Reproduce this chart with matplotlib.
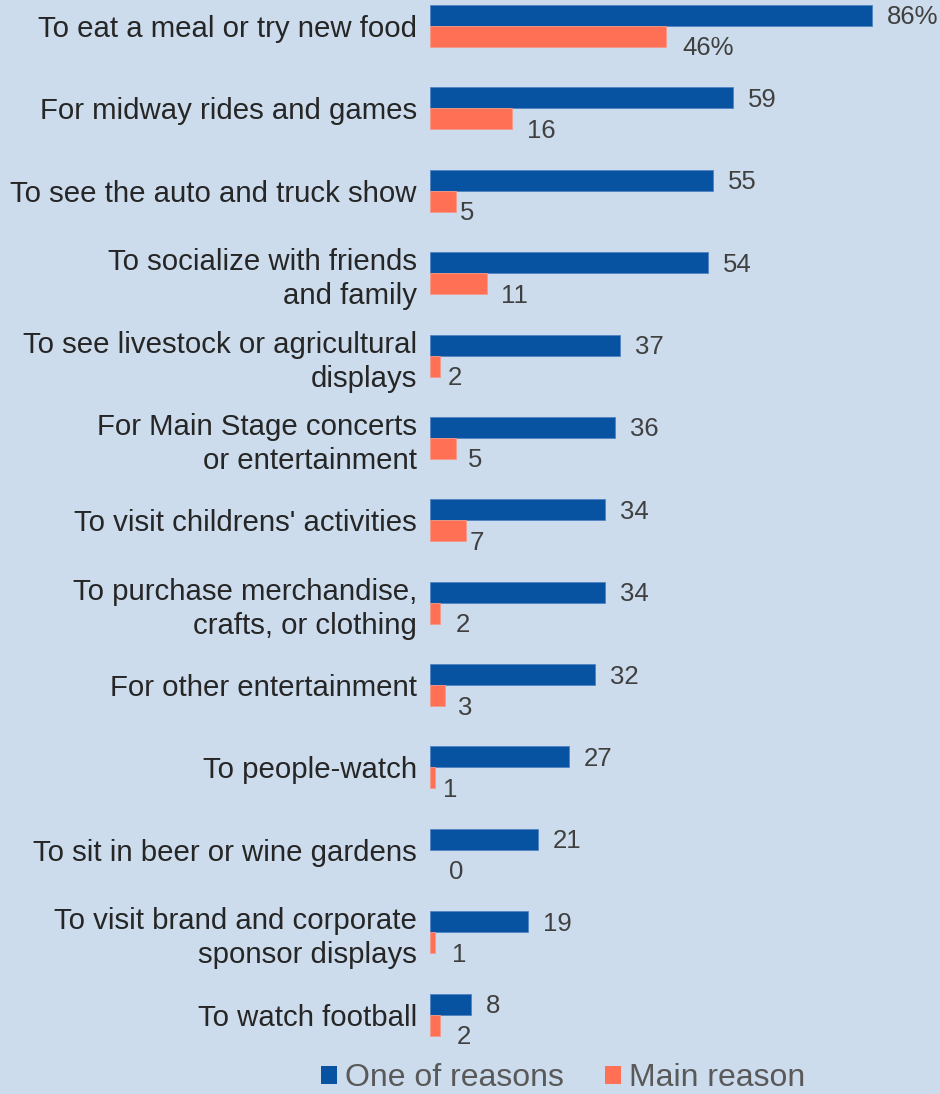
import numpy as np
import matplotlib.pyplot as plt
from matplotlib.patches import Patch

plt.rcParams['font.family'] = ['Liberation Sans', 'DejaVu Sans']

categories = [
    "To eat a meal or try new food",
    "For midway rides and games",
    "To see the auto and truck show",
    "To socialize with friends\nand family",
    "To see livestock or agricultural\ndisplays",
    "For Main Stage concerts\nor entertainment",
    "To visit childrens' activities",
    "To purchase merchandise,\ncrafts, or clothing",
    "For other entertainment",
    "To people-watch",
    "To sit in beer or wine gardens",
    "To visit brand and corporate\nsponsor displays",
    "To watch football",
]
one_of_reasons = [86, 59, 55, 54, 37, 36, 34, 34, 32, 27, 21, 19, 8]
main_reason = [46, 16, 5, 11, 2, 5, 7, 2, 3, 1, 0, 1, 2]

# horizontal nudges (px) for the main-reason labels
main_nudge = [16, 15, 4, 14, 7, 12, 4, 15, 13, 8, 19, 17, 16]

BG = '#CCDCEC'
BLUE = '#0753A2'
CORAL = '#FF7055'

fig = plt.figure(figsize=(9.4, 10.94), dpi=100, facecolor=BG)
ax = fig.add_axes([430 / 940, 1 - 1055 / 1094, 510 / 940, 1055 / 1094])
ax.set_facecolor(BG)

y = np.arange(len(categories))
h = 0.255
px = 0.72  # points per pixel at 100 dpi

ax.barh(y - h / 2, one_of_reasons, height=h, color=BLUE,
        edgecolor='#4F83C2', linewidth=0.6)
ax.barh(y + h / 2, main_reason, height=h, color=CORAL,
        edgecolor='#F59888', linewidth=[0.6 if v > 0 else 0 for v in main_reason])

for i, (a, b) in enumerate(zip(one_of_reasons, main_reason)):
    ta = f"{a}%" if i == 0 else str(a)
    tb = f"{b}%" if i == 0 else str(b)
    ax.annotate(ta, (a, y[i] - h / 2), xytext=(15 * px, -2 * px),
                textcoords='offset points', ha='left', va='center',
                fontsize=18.5, color='#404040')
    ax.annotate(tb, (b, y[i] + h / 2), xytext=(main_nudge[i] * px, -12 * px),
                textcoords='offset points', ha='left', va='center',
                fontsize=18.5, color='#404040')

ax.set_xlim(0, 99.2)
ax.set_ylim(12.49, -0.3155)
ax.set_xticks([])
ax.set_yticks(y)
ax.set_yticklabels(categories, fontsize=21.2, color='#262626',
                   linespacing=1.28)
ax.tick_params(axis='y', length=0, pad=9.4)
for s in ax.spines.values():
    s.set_visible(False)

handles = [Patch(facecolor=BLUE, label='One of reasons'),
           Patch(facecolor=CORAL, label='Main reason')]
fig.legend(handles=handles, loc='center', bbox_to_anchor=(563 / 940, 1 - 1078 / 1094),
           ncol=2, frameon=False, fontsize=23, labelcolor='#595959',
           handlelength=0.5, handleheight=0.5, handletextpad=0.25,
           columnspacing=1.28, borderpad=0)

fig.savefig('out.png', dpi=100, facecolor=BG)
